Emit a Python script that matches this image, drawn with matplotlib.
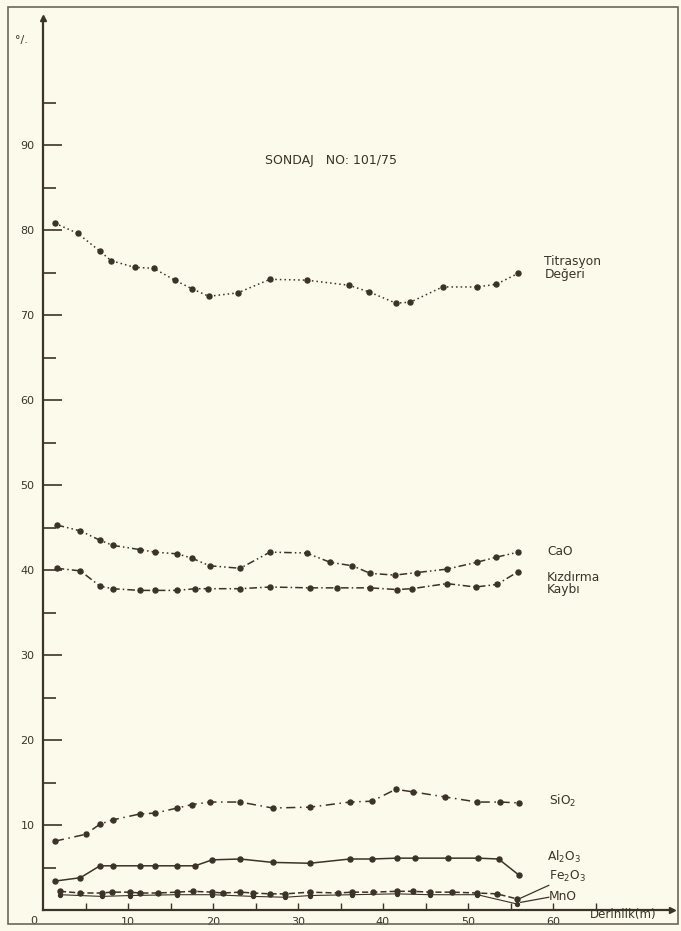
import matplotlib.pyplot as plt
from matplotlib.patches import Rectangle

# depth (m) / percent values
tit_x = [1.4, 4.1, 6.7, 8.0, 10.8, 13.0, 15.5, 17.5, 19.5, 22.9, 26.7, 31.0, 36.0, 38.4, 41.5, 43.2, 47.0, 51.0, 53.3, 55.9]
tit_y = [80.8, 79.6, 77.5, 76.4, 75.6, 75.5, 74.1, 73.1, 72.2, 72.6, 74.2, 74.1, 73.5, 72.7, 71.4, 71.5, 73.3, 73.3, 73.6, 74.9]

cao_x = [1.6, 4.4, 6.7, 8.2, 11.4, 13.2, 15.8, 17.5, 19.6, 23.2, 26.7, 31.0, 33.8, 36.4, 38.5, 41.4, 44.0, 47.5, 51.0, 53.3, 55.9]
cao_y = [45.3, 44.6, 43.5, 42.9, 42.4, 42.1, 41.9, 41.4, 40.5, 40.2, 42.1, 42.0, 40.9, 40.5, 39.6, 39.4, 39.7, 40.1, 40.9, 41.5, 42.1]

kk_x = [1.6, 4.4, 6.7, 8.2, 11.4, 13.2, 15.8, 17.9, 19.4, 23.2, 26.7, 31.4, 34.6, 38.5, 41.6, 43.4, 47.5, 50.9, 53.4, 55.9]
kk_y = [40.2, 39.9, 38.1, 37.8, 37.6, 37.6, 37.6, 37.8, 37.8, 37.8, 38.0, 37.9, 37.9, 37.9, 37.7, 37.8, 38.4, 38.0, 38.3, 39.8]

sio2_x = [1.4, 5.0, 6.7, 8.2, 11.4, 13.2, 15.8, 17.5, 19.6, 23.2, 27.0, 31.4, 36.1, 38.7, 41.5, 43.5, 47.3, 51.1, 53.8, 56.0]
sio2_y = [8.1, 8.9, 10.1, 10.6, 11.3, 11.4, 12.0, 12.4, 12.7, 12.7, 12.0, 12.1, 12.7, 12.8, 14.2, 13.9, 13.3, 12.7, 12.7, 12.6]

al_x = [1.4, 4.4, 6.7, 8.2, 11.4, 13.2, 15.8, 17.9, 19.9, 23.2, 27.0, 31.4, 36.1, 38.7, 41.6, 43.8, 47.6, 51.2, 53.6, 56.0]
al_y = [3.4, 3.8, 5.2, 5.2, 5.2, 5.2, 5.2, 5.2, 5.9, 6.0, 5.6, 5.5, 6.0, 6.0, 6.1, 6.1, 6.1, 6.1, 6.0, 4.1]

fe_x = [2.0, 4.4, 6.9, 8.1, 10.2, 11.4, 13.5, 15.8, 17.6, 19.9, 21.2, 23.2, 24.7, 26.7, 28.5,
        31.4, 34.7, 36.4, 38.8, 41.6, 43.5, 45.5, 48.1, 51.1, 53.4, 55.8]
fe_y = [2.2, 2.0, 2.0, 2.1, 2.1, 2.0, 2.0, 2.1, 2.2, 2.1, 2.0, 2.1, 2.0, 1.9, 1.9,
        2.1, 2.0, 2.1, 2.1, 2.2, 2.2, 2.1, 2.1, 2.0, 1.9, 1.3]

mno_x = [2.0, 6.9, 10.2, 15.8, 19.9, 24.7, 28.5, 31.4, 36.4, 41.6, 45.5, 51.1, 55.8]
mno_y = [1.8, 1.6, 1.7, 1.8, 1.8, 1.6, 1.5, 1.7, 1.8, 1.9, 1.8, 1.8, 0.7]

y_major = [10, 20, 30, 40, 50, 60, 70, 80, 90]
y_minor = [5, 15, 25, 35, 45, 55, 65, 75, 85, 95]
x_major = [10, 20, 30, 40, 50, 60]
x_minor = [5, 15, 25, 35, 45, 55, 65]

bg = "#fcfaea"
ink = "#3b3327"
plt.rcParams['font.family'] = ['Liberation Sans Narrow', 'DejaVu Sans']

fig = plt.figure(figsize=(6.81, 9.31), dpi=100, facecolor=bg)
ax = fig.add_axes([43 / 681, 21 / 931, 74 * 8.5 / 681, 105 * 8.5 / 931])
ax.set_facecolor(bg)
ax.set_xlim(0, 74)
ax.set_ylim(0, 105)

for s in ["top", "right"]:
    ax.spines[s].set_visible(False)
for s in ["left", "bottom"]:
    ax.spines[s].set_color(ink)
    ax.spines[s].set_linewidth(1.6)

# arrow heads
ax.plot([0], [105], marker="^", ms=5, color=ink, clip_on=False)
ax.plot([74], [0], marker=">", ms=5, color=ink, clip_on=False)

ax.set_yticks(y_major)
ax.set_yticks(y_minor, minor=True)
ax.set_xticks(x_major)
ax.set_xticks(x_minor, minor=True)
ax.tick_params(axis="y", which="major", direction="in", length=14, width=1.2, color=ink,
               labelsize=8, labelcolor=ink, pad=6)
ax.tick_params(axis="y", which="minor", direction="in", length=9, width=1.2, color=ink)
ax.tick_params(axis="x", which="both", direction="in", length=5, width=1.0, color=ink,
               labelsize=8, labelcolor=ink, pad=5)

mk = dict(marker="o", ms=3.6, color=ink, mfc=ink, mec=ink, lw=1.1)
ax.plot(tit_x, tit_y, ls=(0, (1, 2)), **mk)
ax.plot(cao_x, cao_y, ls=(0, (5, 2, 1, 2, 1, 2)), **mk)
ax.plot(kk_x, kk_y, ls=(0, (5, 2, 1, 2)), **mk)
ax.plot(sio2_x, sio2_y, ls=(0, (6, 3, 1, 3)), **mk)
ax.plot(al_x, al_y, ls="-", **mk)
ax.plot(fe_x, fe_y, ls=(0, (4, 2)), **mk)
ax.plot(mno_x, mno_y, ls="-", marker="o", ms=2.8, color=ink, lw=0.8)

# leader lines to the Fe2O3 / MnO labels
ax.plot([56.2, 59.5], [1.4, 2.9], color=ink, lw=0.9)
ax.plot([56.2, 59.5], [0.9, 1.5], color=ink, lw=0.9)

lab = dict(fontsize=8.8, color=ink, va="center", ha="left")
ax.text(59.0, 75.5, "Titrasyon\nDeğeri", linespacing=0.95, **lab)
ax.text(59.3, 42.2, "CaO", **lab)
ax.text(59.3, 38.4, "Kızdırma\nKaybı", linespacing=0.85, **lab)
ax.text(59.5, 12.8, "SiO$_2$", **lab)
ax.text(59.3, 6.2, "Al$_2$O$_3$", **lab)
ax.text(59.5, 4.0, "Fe$_2$O$_3$", **lab)
ax.text(59.5, 1.6, "MnO", **lab)
ax.text(64.3, -0.55, "Derinlik(m)", fontsize=8.5, color=ink, va="center", ha="left")
ax.text(-0.7, -0.7, "0", fontsize=8, color=ink, va="top", ha="right")

ax.text(26.1, 88.2, "SONDAJ   NO: 101/75", fontsize=9, color=ink, ha="left", va="center")
fig.text(15 / 681, 1 - 40 / 931, "°/.", fontsize=8, color=ink, ha="left", va="center")

# scanned page frame
fig.patches.append(Rectangle((8 / 681, 7 / 931), 670 / 681, 917 / 931, transform=fig.transFigure,
                             fill=False, ec="#6e675a", lw=1.2))

fig.savefig("out.png", dpi=100, facecolor=bg)
